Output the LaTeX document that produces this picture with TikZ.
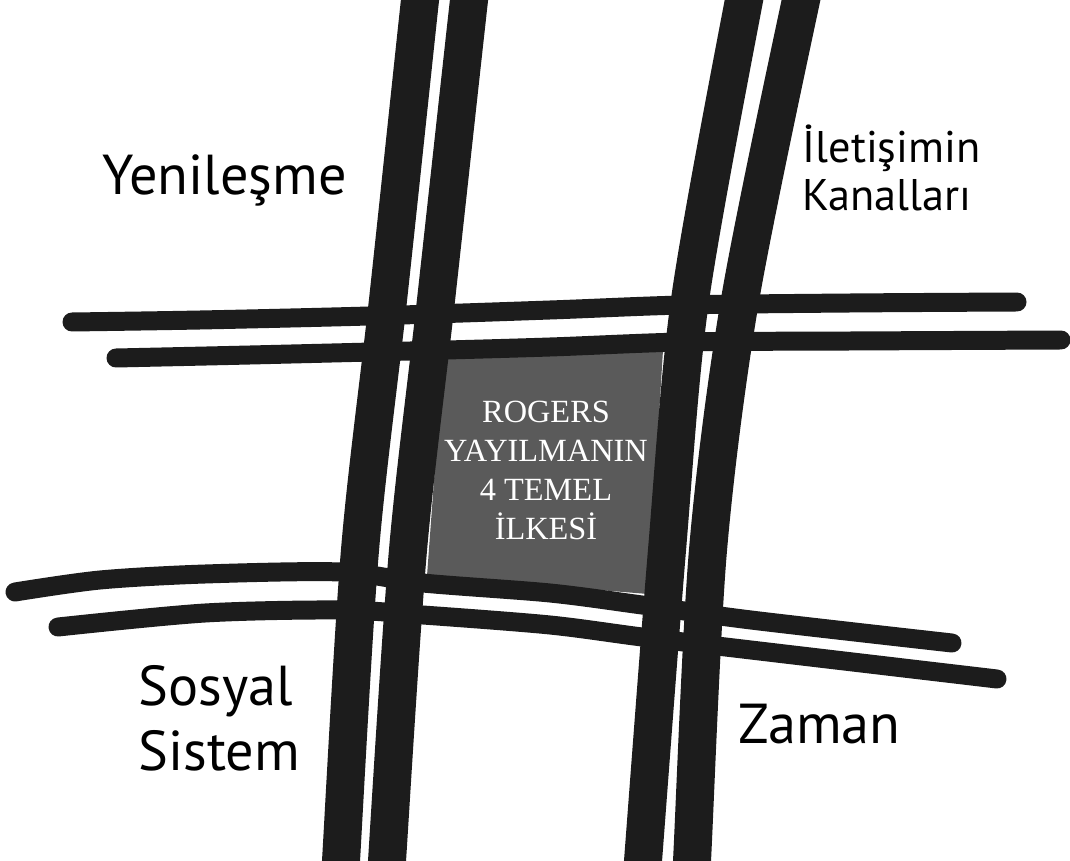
\documentclass[tikz,border=0pt]{standalone}
\usepackage{fontspec}
\setmainfont{Liberation Serif}
\newfontfamily\labelfont{PT Sans}
\usetikzlibrary{positioning}
\definecolor{ink}{HTML}{1C1C1C}
\definecolor{boxgray}{HTML}{5A5A5A}

\begin{document}
\begin{tikzpicture}[
	  x=0.01cm, y=-0.01cm,
	  vstroke/.style = {draw=ink, line width=10.8pt, line cap=butt},
	  hstroke/.style = {draw=ink, line width=5.4pt, line cap=round},
	  bigword/.style = {font=\labelfont\fontsize{16}{19}\selectfont, anchor=base west, inner sep=0pt},
	  smallword/.style = {font=\labelfont\fontsize{12.6}{15}\selectfont, anchor=base west, inner sep=0pt},
	  boxtext/.style = {font=\fontsize{9.2}{11.1}\selectfont, text=white, align=center, inner sep=0pt}
	]
	  \clip (0,0) rectangle (1070,861);
	  \fill[white] (0,0) rectangle (1070,861);

	  \fill[boxgray] (443,358) -- (663,350) -- (648,594) -- (427,576) -- cycle;
	  \node[boxtext] (ilkeler) at (546,470) {ROGERS\\YAYILMANIN\\4 TEMEL\\İLKESİ};

	  \draw[hstroke] plot[smooth, tension=0.5] coordinates {(72,322) (200,320) (369,316) (550,310) (683,305) (850,303) (1017,302)};
	  \draw[hstroke] plot[smooth, tension=0.5] coordinates {(116,358) (250,355) (410,351) (550,347) (683,342) (850,341) (1061,340)};
	  \draw[hstroke] plot[smooth, tension=0.5] coordinates {(15,592) (100,580) (205,574) (341,572) (423,583) (550,593) (642,605) (751,620) (952,643)};
	  \draw[hstroke] plot[smooth, tension=0.5] coordinates {(58,627) (205,613) (341,610) (423,615) (550,625) (642,637) (751,650) (997,679)};

	  \draw[vstroke] plot[smooth] coordinates {(424,-30) (420,0) (388,300) (360,550) (341,861) (340,890)};
	  \draw[vstroke] plot[smooth] coordinates {(473,-30) (469,0) (436,300) (408,550) (387,861) (386,890)};
	  \draw[vstroke] plot[smooth] coordinates {(752,-30) (744,0) (690,300) (667,550) (643,861) (641,890)};
	  \draw[vstroke] plot[smooth] coordinates {(810,-30) (801,0) (740,300) (708,550) (692,861) (690,890)};

	  \node[bigword] (yenilesme) at (102,195) {Yenileşme};
	  \node[smallword] (iletisim) at (802,163) {İletişimin};
	  \node[smallword] (kanallar) at ([yshift=-0.47cm]iletisim.base west) {Kanalları};
	  \node[bigword] (sosyal) at (138,705) {Sosyal};
	  \node[bigword] (sistem) at ([yshift=-0.65cm]sosyal.base west) {Sistem};
	  \node[bigword] (zaman) at (738,743) {Zaman};
	\end{tikzpicture}
\end{document}
